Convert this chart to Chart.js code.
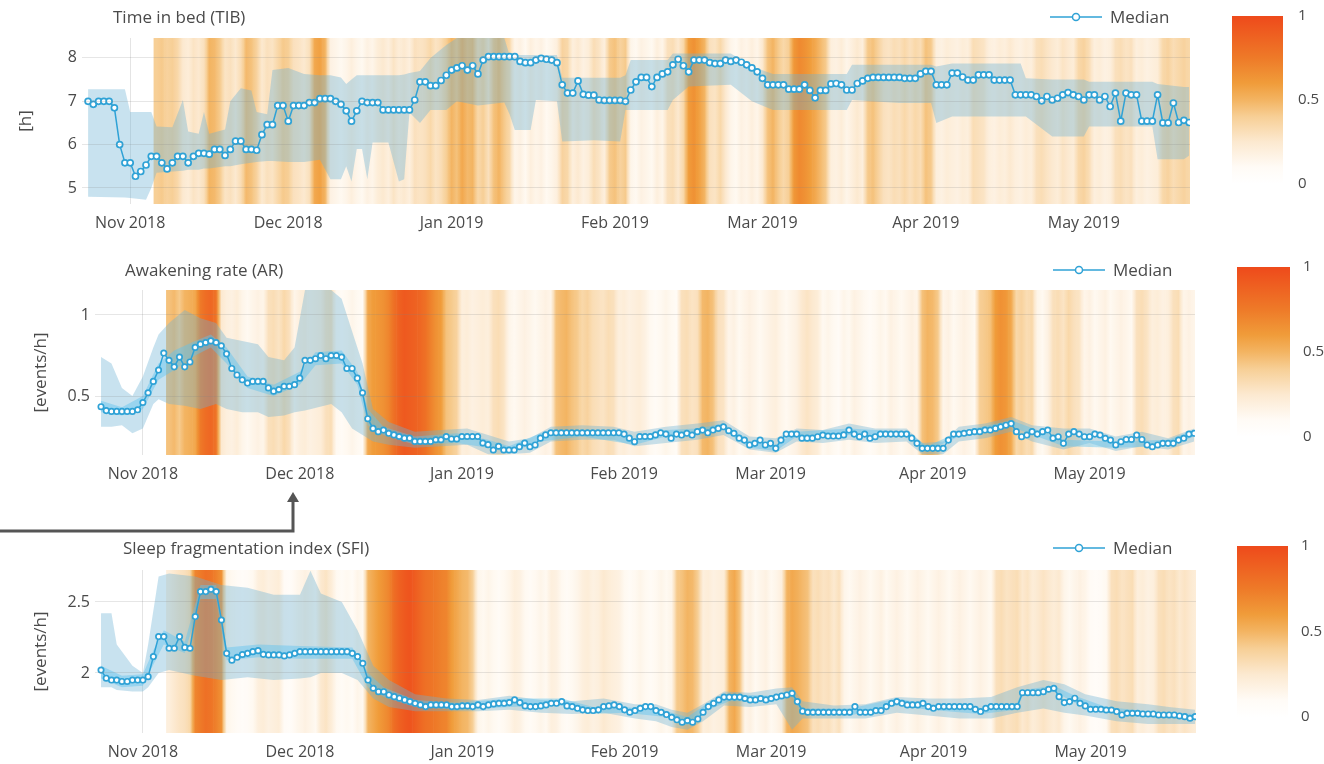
<!DOCTYPE html>
<html>
<head>
<meta charset="utf-8">
<title>Sleep metrics</title>
<script src="https://cdn.jsdelivr.net/npm/chart.js@4.4.1/dist/chart.umd.min.js"></script>
<style>
  body { margin: 0; background: #fff; font-family: "Open Sans", sans-serif; color: #4a4a4a; }
  #page { position: relative; width: 1324px; height: 764px; overflow: hidden; }
  .box { position: absolute; }
  .title, .legend { position: absolute; font-size: 17px; line-height: 20px; white-space: nowrap; }
  .legend svg { vertical-align: middle; margin-right: 8px; margin-top: -3px; }
</style>
</head>
<body>
<div id="page">
  <div class="box" style="left:0;top:0;width:1215px;height:240px"><canvas id="tib"></canvas></div>
  <div class="box" style="left:0;top:245px;width:1215px;height:245px"><canvas id="ar"></canvas></div>
  <div class="box" style="left:0;top:520px;width:1215px;height:244px"><canvas id="sfi"></canvas></div>

  <div class="box" style="left:1232px;top:0;width:92px;height:200px"><canvas id="cb1"></canvas></div>
  <div class="box" style="left:1237px;top:253px;width:87px;height:198px"><canvas id="cb2"></canvas></div>
  <div class="box" style="left:1237px;top:532px;width:87px;height:199px"><canvas id="cb3"></canvas></div>

  <div class="title" style="left:113px;top:7px">Time in bed (TIB)</div>
  <div class="title" style="left:125px;top:260px">Awakening rate (AR)</div>
  <div class="title" style="left:123px;top:538px">Sleep fragmentation index (SFI)</div>

  <div class="legend" style="left:1050px;top:7px"><svg width="52" height="12"><line x1="0" y1="6" x2="52" y2="6" stroke="#2fa2d6" stroke-width="1.5"/><circle cx="26" cy="6" r="3.5" fill="#fff" stroke="#2fa2d6" stroke-width="1.5"/></svg>Median</div>
  <div class="legend" style="left:1053px;top:260px"><svg width="52" height="12"><line x1="0" y1="6" x2="52" y2="6" stroke="#2fa2d6" stroke-width="1.5"/><circle cx="26" cy="6" r="3.5" fill="#fff" stroke="#2fa2d6" stroke-width="1.5"/></svg>Median</div>
  <div class="legend" style="left:1053px;top:538px"><svg width="52" height="12"><line x1="0" y1="6" x2="52" y2="6" stroke="#2fa2d6" stroke-width="1.5"/><circle cx="26" cy="6" r="3.5" fill="#fff" stroke="#2fa2d6" stroke-width="1.5"/></svg>Median</div>

  <svg style="position:absolute;left:0;top:488px" width="310" height="50">
    <polyline points="0,43 293,43 293,13" fill="none" stroke="#555" stroke-width="3"/>
    <polygon points="287,14 299,14 293,4" fill="#555"/>
  </svg>
</div>

<script>
// x axis: days counted from 1 Nov 2018
const monthDays = [0, 30, 61, 92, 120, 151, 181];
const monthLabels = ["Nov 2018", "Dec 2018", "Jan 2019", "Feb 2019", "Mar 2019", "Apr 2019", "May 2019"];
const medianStart = -8; // first median point (24 Oct 2018)
const heatStart = 5;    // first heat stripe (6 Nov 2018)

// colour scale of the heat stripes / colour bars
const heatStops = [
  [0, [255, 255, 255]], [0.1, [255, 251, 246]], [0.25, [252, 233, 208]], [0.4, [247, 207, 150]],
  [0.5, [243, 180, 98]], [0.6, [240, 156, 58]], [0.75, [238, 122, 40]], [1, [238, 74, 27]]
];

// ---- Time in bed ----
const tibMedian = [
  7.0, 6.93, 7.0, 7.0, 7.0, 6.85, 6.0, 5.58, 5.58, 5.27,
  5.38, 5.53, 5.73, 5.73, 5.58, 5.44, 5.58, 5.73, 5.73, 5.58,
  5.73, 5.8, 5.8, 5.78, 5.89, 5.89, 5.75, 5.89, 6.08, 6.08,
  5.89, 5.89, 5.87, 6.23, 6.46, 6.46, 6.9, 6.9, 6.54, 6.9,
  6.9, 6.9, 6.97, 6.97, 7.06, 7.06, 7.06, 7.0, 6.93, 6.78,
  6.54, 6.78, 7.0, 6.97, 6.97, 6.97, 6.8, 6.8, 6.8, 6.8,
  6.8, 6.8, 7.03, 7.45, 7.45, 7.36, 7.36, 7.48, 7.6, 7.72,
  7.77, 7.82, 7.72, 7.82, 7.63, 7.95, 8.03, 8.03, 8.03, 8.03,
  8.03, 8.03, 7.92, 7.89, 7.89, 7.95, 7.99, 7.97, 7.95, 7.89,
  7.38, 7.19, 7.19, 7.47, 7.16, 7.14, 7.14, 7.03, 7.02, 7.02,
  7.02, 7.02, 7.0, 7.26, 7.45, 7.55, 7.55, 7.34, 7.55, 7.63,
  7.68, 7.84, 7.97, 7.82, 7.68, 7.95, 7.95, 7.95, 7.89, 7.87,
  7.87, 7.95, 7.92, 7.95, 7.9, 7.84, 7.77, 7.68, 7.53, 7.38,
  7.38, 7.38, 7.38, 7.28, 7.28, 7.28, 7.38, 7.25, 7.08, 7.25,
  7.25, 7.4, 7.41, 7.38, 7.26, 7.26, 7.41, 7.47, 7.53, 7.55,
  7.55, 7.55, 7.55, 7.55, 7.55, 7.53, 7.53, 7.53, 7.63, 7.69,
  7.69, 7.38, 7.38, 7.38, 7.65, 7.65, 7.56, 7.49, 7.49, 7.61,
  7.61, 7.61, 7.49, 7.49, 7.49, 7.49, 7.15, 7.15, 7.15, 7.15,
  7.11, 7.01, 7.11, 7.03, 7.07, 7.15, 7.2, 7.15, 7.11, 7.03,
  7.15, 7.15, 7.03, 7.11, 6.88, 7.19, 6.54, 7.19, 7.15, 7.15,
  6.54, 6.54, 6.54, 7.15, 6.5, 6.5, 6.96, 6.51, 6.56, 6.51
];
const tibBandDays = [-8, -1, 0, 3, 4, 5, 8, 10, 11, 13, 14, 15, 18, 19, 21, 23, 24, 26, 27, 30,
  33, 36, 38, 40, 41, 42, 43, 44, 45, 46, 49, 51, 52, 53, 55, 57, 60, 62, 66, 71,
  72, 73, 76, 77, 81, 82, 88, 93, 94, 95, 102, 103, 106, 114, 118, 122, 130, 136, 137, 146,
  152, 153, 156, 169, 170, 175, 181, 182, 194, 195, 200, 201];
const tibBandLow = [4.8, 4.78, 4.77, 4.73, 5.0, 5.35, 5.38, 5.4, 5.42, 5.42, 5.45, 5.45, 5.5, 5.5, 5.55, 5.58, 5.6, 5.62, 5.62, 5.6,
  5.6, 5.65, 5.2, 5.2, 5.5, 5.15, 5.9, 5.9, 5.2, 6.05, 6.05, 5.15, 5.2, 6.74, 6.5, 6.8, 6.8, 7.0, 6.9, 6.97,
  6.7, 6.34, 6.34, 7.03, 7.0, 6.07, 6.1, 6.07, 6.8, 6.8, 6.8, 7.03, 7.34, 7.38, 7.0, 6.8, 6.8, 6.8, 7.03, 6.96,
  6.96, 6.5, 6.65, 6.65, 6.65, 6.19, 6.19, 6.42, 6.42, 5.66, 5.66, 5.75];
const tibBandHigh = [7.28, 7.28, 6.75, 6.75, 6.75, 6.42, 6.4, 7.03, 6.3, 6.25, 6.75, 6.25, 6.35, 7.0, 7.3, 7.25, 6.75, 6.7, 7.72, 7.77,
  7.63, 7.6, 7.6, 7.55, 7.4, 7.5, 7.6, 7.6, 7.6, 7.6, 7.6, 7.6, 7.62, 7.65, 7.7, 8.0, 8.3, 8.46, 8.46, 8.46,
  8.07, 8.07, 8.07, 8.07, 8.07, 7.54, 7.54, 7.54, 7.6, 7.95, 7.95, 8.1, 8.1, 8.1, 7.8, 7.63, 7.63, 7.63, 7.84, 7.84,
  7.84, 7.8, 7.87, 7.87, 7.53, 7.5, 7.5, 7.45, 7.45, 7.4, 7.33, 7.33];
const tibHeat = [
  0.4, 0.42, 0.38, 0.4, 0.35, 0.25, 0.22, 0.28, 0.25, 0.3,
  0.5, 0.48, 0.42, 0.28, 0.3, 0.25, 0.32, 0.48, 0.45, 0.38,
  0.25, 0.3, 0.28, 0.35, 0.42, 0.4, 0.3, 0.28, 0.25, 0.3,
  0.55, 0.58, 0.5, 0.18, 0.15, 0.12, 0.15, 0.2, 0.15, 0.12,
  0.18, 0.15, 0.22, 0.25, 0.2, 0.28, 0.22, 0.25, 0.2, 0.3,
  0.28, 0.3, 0.35, 0.28, 0.32, 0.4, 0.5, 0.45, 0.55, 0.48,
  0.5, 0.35, 0.4, 0.3, 0.45, 0.5, 0.42, 0.35, 0.15, 0.18,
  0.12, 0.2, 0.15, 0.18, 0.12, 0.15, 0.2, 0.38, 0.35, 0.2,
  0.25, 0.18, 0.22, 0.32, 0.28, 0.2, 0.42, 0.45, 0.38, 0.42,
  0.15, 0.12, 0.18, 0.15, 0.12, 0.2, 0.15, 0.3, 0.32, 0.25,
  0.35, 0.6, 0.65, 0.58, 0.5, 0.3, 0.28, 0.35, 0.25, 0.15,
  0.12, 0.18, 0.15, 0.2, 0.15, 0.25, 0.45, 0.5, 0.42, 0.35,
  0.4, 0.62, 0.68, 0.65, 0.6, 0.55, 0.48, 0.42, 0.2, 0.18,
  0.22, 0.15, 0.2, 0.25, 0.2, 0.42, 0.45, 0.38, 0.3, 0.28,
  0.32, 0.3, 0.35, 0.3, 0.35, 0.32, 0.45, 0.42, 0.2, 0.18,
  0.22, 0.2, 0.18, 0.22, 0.2, 0.32, 0.3, 0.28, 0.2, 0.18,
  0.22, 0.2, 0.25, 0.2, 0.18, 0.22, 0.2, 0.3, 0.32, 0.28,
  0.25, 0.22, 0.28, 0.25, 0.22, 0.35, 0.38, 0.32, 0.2, 0.22,
  0.18, 0.2, 0.3, 0.32, 0.28, 0.3, 0.2, 0.22, 0.18, 0.2,
  0.22, 0.35, 0.38, 0.32, 0.35, 0.38, 0.35
];

// ---- Awakening rate ----
const arMedian = [
  0.434, 0.41, 0.405, 0.405, 0.405, 0.405, 0.405, 0.415, 0.46, 0.52,
  0.59, 0.66, 0.765, 0.72, 0.68, 0.74, 0.68, 0.71, 0.8, 0.82,
  0.83, 0.84, 0.83, 0.81, 0.76, 0.67, 0.63, 0.6, 0.58, 0.59,
  0.59, 0.59, 0.55, 0.53, 0.54, 0.56, 0.56, 0.57, 0.61, 0.72,
  0.72, 0.73, 0.75, 0.73, 0.75, 0.75, 0.74, 0.67, 0.67, 0.61,
  0.52, 0.36, 0.3, 0.28, 0.29, 0.27, 0.26, 0.25, 0.24, 0.24,
  0.22, 0.22, 0.22, 0.22, 0.23, 0.23, 0.25, 0.235, 0.235, 0.25,
  0.25, 0.25, 0.25, 0.21, 0.2, 0.167, 0.19, 0.167, 0.167, 0.167,
  0.187, 0.21, 0.187, 0.198, 0.24, 0.26, 0.273, 0.273, 0.273, 0.273,
  0.273, 0.273, 0.273, 0.273, 0.273, 0.273, 0.273, 0.273, 0.273, 0.273,
  0.265, 0.24, 0.218, 0.25, 0.25, 0.25, 0.26, 0.273, 0.265, 0.24,
  0.265, 0.259, 0.27, 0.259, 0.28, 0.29, 0.273, 0.29, 0.3, 0.31,
  0.286, 0.27, 0.24, 0.228, 0.198, 0.208, 0.228, 0.198, 0.208, 0.177,
  0.228, 0.265, 0.265, 0.265, 0.24, 0.24, 0.24, 0.249, 0.259, 0.253,
  0.253, 0.253, 0.26, 0.29, 0.265, 0.249, 0.265, 0.239, 0.249, 0.265,
  0.265, 0.265, 0.265, 0.265, 0.265, 0.24, 0.208, 0.177, 0.177, 0.177,
  0.177, 0.177, 0.228, 0.265, 0.265, 0.27, 0.275, 0.28, 0.28, 0.29,
  0.29, 0.3, 0.31, 0.32, 0.33, 0.28, 0.249, 0.259, 0.28, 0.265,
  0.28, 0.29, 0.24, 0.249, 0.208, 0.265, 0.28, 0.265, 0.249, 0.249,
  0.265, 0.259, 0.239, 0.228, 0.198, 0.218, 0.232, 0.232, 0.259, 0.232,
  0.198, 0.187, 0.198, 0.208, 0.208, 0.208, 0.228, 0.239, 0.265, 0.27
];
const arBandDays = [-8, -6, -4, -2, 0, 2, 3, 5, 8, 11, 14, 16, 19, 22, 24, 27, 29, 31, 36, 38,
  40, 42, 44, 47, 52, 57, 62, 66, 70, 74, 78, 84, 90, 94, 100, 106, 111, 116, 121, 125,
  130, 135, 140, 146, 149, 153, 156, 161, 166, 170, 176, 181, 186, 191, 196, 201];
const arBandLow = [0.31, 0.31, 0.32, 0.27, 0.3, 0.45, 0.48, 0.45, 0.44, 0.42, 0.45, 0.42, 0.4, 0.4, 0.37, 0.38, 0.4, 0.41, 0.45, 0.4,
  0.3, 0.26, 0.22, 0.2, 0.18, 0.19, 0.2, 0.14, 0.14, 0.15, 0.22, 0.23, 0.23, 0.19, 0.21, 0.23, 0.26, 0.17, 0.15, 0.22,
  0.21, 0.23, 0.21, 0.22, 0.14, 0.14, 0.22, 0.24, 0.28, 0.22, 0.17, 0.21, 0.16, 0.19, 0.17, 0.22];
const arBandHigh = [0.74, 0.7, 0.55, 0.5, 0.62, 0.8, 0.88, 0.95, 1.03, 0.98, 0.95, 0.86, 0.84, 0.82, 0.74, 0.72, 0.8, 1.154, 1.154, 1.1,
  0.9, 0.7, 0.42, 0.34, 0.28, 0.29, 0.3, 0.26, 0.22, 0.24, 0.31, 0.32, 0.31, 0.28, 0.31, 0.33, 0.35, 0.25, 0.24, 0.3,
  0.29, 0.33, 0.3, 0.3, 0.21, 0.22, 0.31, 0.33, 0.37, 0.32, 0.3, 0.3, 0.25, 0.28, 0.24, 0.3];
const arInnerDays = [-8, -4, 0, 3, 6, 10, 13, 16, 20, 25, 30, 33, 38, 41, 43, 46, 52, 60, 66, 70,
  76, 84, 94, 100, 106, 111, 116, 121, 125, 135, 146, 150, 156, 166, 176, 186, 196, 201];
const arInnerLow = [0.4, 0.38, 0.42, 0.6, 0.66, 0.75, 0.8, 0.7, 0.55, 0.5, 0.57, 0.69, 0.7, 0.57, 0.32, 0.26, 0.2, 0.21, 0.18, 0.15,
  0.22, 0.25, 0.2, 0.25, 0.26, 0.29, 0.18, 0.16, 0.25, 0.26, 0.25, 0.16, 0.25, 0.31, 0.19, 0.18, 0.19, 0.25];
const arInnerHigh = [0.47, 0.43, 0.5, 0.7, 0.78, 0.84, 0.88, 0.8, 0.62, 0.57, 0.65, 0.77, 0.78, 0.65, 0.42, 0.31, 0.25, 0.27, 0.23, 0.19,
  0.27, 0.29, 0.24, 0.29, 0.3, 0.33, 0.22, 0.2, 0.28, 0.3, 0.28, 0.19, 0.28, 0.35, 0.23, 0.22, 0.23, 0.29];
const arHeat = [
  0.45, 0.48, 0.42, 0.5, 0.52, 0.55, 0.75, 0.82, 0.85, 0.78,
  0.25, 0.2, 0.18, 0.22, 0.15, 0.12, 0.15, 0.18, 0.15, 0.3,
  0.32, 0.28, 0.35, 0.3, 0.15, 0.2, 0.22, 0.18, 0.2, 0.22,
  0.3, 0.32, 0.12, 0.1, 0.12, 0.15, 0.12, 0.1, 0.55, 0.6,
  0.62, 0.65, 0.7, 0.8, 0.88, 0.92, 0.9, 0.88, 0.85, 0.8,
  0.72, 0.65, 0.6, 0.45, 0.42, 0.38, 0.2, 0.22, 0.18, 0.2,
  0.22, 0.2, 0.3, 0.32, 0.28, 0.15, 0.12, 0.15, 0.18, 0.15,
  0.12, 0.15, 0.18, 0.15, 0.45, 0.48, 0.5, 0.45, 0.42, 0.35,
  0.38, 0.32, 0.3, 0.28, 0.32, 0.3, 0.2, 0.22, 0.18, 0.2,
  0.22, 0.18, 0.12, 0.1, 0.12, 0.15, 0.12, 0.1, 0.3, 0.32,
  0.28, 0.3, 0.48, 0.5, 0.45, 0.3, 0.28, 0.15, 0.18, 0.12,
  0.15, 0.18, 0.15, 0.12, 0.15, 0.18, 0.2, 0.15, 0.12, 0.15,
  0.18, 0.25, 0.28, 0.25, 0.22, 0.12, 0.15, 0.12, 0.1, 0.15,
  0.12, 0.18, 0.15, 0.12, 0.1, 0.12, 0.15, 0.12, 0.18, 0.15,
  0.12, 0.15, 0.18, 0.15, 0.45, 0.5, 0.48, 0.42, 0.15, 0.18,
  0.12, 0.15, 0.18, 0.15, 0.12, 0.4, 0.42, 0.45, 0.6, 0.65,
  0.62, 0.55, 0.35, 0.38, 0.32, 0.35, 0.15, 0.12, 0.18, 0.3,
  0.32, 0.28, 0.35, 0.3, 0.28, 0.15, 0.18, 0.12, 0.15, 0.18,
  0.12, 0.15, 0.18, 0.15, 0.12, 0.3, 0.32, 0.28, 0.2, 0.22,
  0.18, 0.2, 0.3, 0.32, 0.15, 0.18, 0.15
];

// ---- Sleep fragmentation index ----
const sfiMedian = [
  2.02, 1.963, 1.95, 1.95, 1.94, 1.94, 1.95, 1.95, 1.95, 1.974,
  2.115, 2.256, 2.256, 2.174, 2.174, 2.256, 2.18, 2.174, 2.397, 2.573,
  2.573, 2.589, 2.573, 2.373, 2.138, 2.09, 2.11, 2.13, 2.138, 2.15,
  2.157, 2.131, 2.127, 2.127, 2.127, 2.12, 2.127, 2.138, 2.15, 2.15,
  2.15, 2.15, 2.15, 2.15, 2.15, 2.15, 2.15, 2.15, 2.138, 2.115,
  2.068, 1.95, 1.892, 1.868, 1.868, 1.845, 1.833, 1.822, 1.81, 1.798,
  1.786, 1.775, 1.763, 1.775, 1.775, 1.775, 1.775, 1.763, 1.763, 1.768,
  1.768, 1.763, 1.775, 1.763, 1.775, 1.782, 1.786, 1.786, 1.791, 1.81,
  1.791, 1.768, 1.763, 1.763, 1.768, 1.775, 1.786, 1.786, 1.798, 1.768,
  1.763, 1.751, 1.74, 1.735, 1.735, 1.74, 1.763, 1.768, 1.775, 1.763,
  1.74, 1.723, 1.735, 1.751, 1.763, 1.763, 1.735, 1.723, 1.707, 1.688,
  1.67, 1.653, 1.665, 1.653, 1.676, 1.723, 1.763, 1.786, 1.81, 1.83,
  1.83, 1.83, 1.83, 1.82, 1.81, 1.81, 1.82, 1.81, 1.82, 1.83,
  1.838, 1.845, 1.857, 1.798, 1.731, 1.723, 1.723, 1.723, 1.723, 1.723,
  1.723, 1.723, 1.723, 1.723, 1.763, 1.723, 1.723, 1.723, 1.735, 1.735,
  1.763, 1.786, 1.798, 1.786, 1.775, 1.775, 1.775, 1.786, 1.763, 1.751,
  1.763, 1.763, 1.763, 1.763, 1.763, 1.763, 1.763, 1.744, 1.728, 1.751,
  1.763, 1.763, 1.763, 1.763, 1.763, 1.763, 1.861, 1.861, 1.861, 1.861,
  1.868, 1.885, 1.892, 1.833, 1.791, 1.798, 1.822, 1.786, 1.768, 1.744,
  1.744, 1.744, 1.739, 1.739, 1.728, 1.704, 1.716, 1.716, 1.716, 1.711,
  1.711, 1.711, 1.704, 1.704, 1.704, 1.704, 1.697, 1.692, 1.681, 1.692
];
const sfiBandDays = [-8, -6, -5, -2, 0, 1, 3, 5, 10, 15, 20, 25, 30, 32, 34, 38, 41, 44, 47, 52,
  58, 64, 70, 76, 82, 88, 94, 98, 101, 104, 107, 111, 116, 121, 124, 126, 132, 138, 144, 150,
  156, 162, 167, 172, 176, 180, 186, 192, 196, 201];
const sfiBandLow = [1.9, 1.9, 1.88, 1.87, 1.87, 1.9, 2.0, 2.02, 1.98, 1.95, 1.97, 1.95, 1.96, 1.97, 2.0, 2.0, 1.95, 1.82, 1.76, 1.73,
  1.73, 1.73, 1.74, 1.72, 1.71, 1.72, 1.68, 1.66, 1.62, 1.6, 1.66, 1.77, 1.76, 1.78, 1.6, 1.68, 1.68, 1.68, 1.72, 1.7,
  1.68, 1.68, 1.72, 1.75, 1.72, 1.7, 1.66, 1.64, 1.64, 1.64];
const sfiBandHigh = [2.42, 2.42, 2.2, 2.05, 2.0, 2.2, 2.68, 2.7, 2.68, 2.62, 2.6, 2.55, 2.55, 2.72, 2.56, 2.5, 2.3, 2.05, 1.95, 1.85,
  1.82, 1.81, 1.84, 1.81, 1.8, 1.82, 1.78, 1.78, 1.74, 1.72, 1.78, 1.87, 1.86, 1.89, 1.9, 1.8, 1.77, 1.78, 1.83, 1.82,
  1.82, 1.83, 1.9, 1.95, 1.92, 1.85, 1.8, 1.78, 1.76, 1.74];
const sfiInnerDays = [-8, -4, 0, 2, 4, 8, 11, 14, 16, 22, 30, 40, 43, 46, 52, 60, 70, 80, 86, 92,
  100, 104, 108, 112, 120, 124, 126, 135, 144, 150, 160, 167, 168, 174, 178, 184, 192, 201];
const sfiInnerLow = [1.96, 1.9, 1.91, 2.06, 2.2, 2.14, 2.52, 2.52, 2.09, 2.11, 2.1, 2.1, 1.9, 1.83, 1.76, 1.74, 1.76, 1.77, 1.71, 1.72,
  1.69, 1.63, 1.74, 1.8, 1.8, 1.83, 1.71, 1.7, 1.77, 1.74, 1.71, 1.74, 1.84, 1.87, 1.79, 1.72, 1.69, 1.67];
const sfiInnerHigh = [2.05, 1.98, 1.99, 2.16, 2.3, 2.22, 2.62, 2.62, 2.18, 2.2, 2.19, 2.18, 2.0, 1.9, 1.81, 1.79, 1.82, 1.82, 1.76, 1.76,
  1.73, 1.69, 1.79, 1.85, 1.84, 1.88, 1.75, 1.75, 1.82, 1.78, 1.75, 1.79, 1.88, 1.91, 1.84, 1.76, 1.73, 1.71];
const sfiHeat = [
  0.2, 0.25, 0.28, 0.3, 0.35, 0.7, 0.75, 0.8, 0.78, 0.72,
  0.65, 0.15, 0.12, 0.1, 0.08, 0.1, 0.12, 0.2, 0.22, 0.18,
  0.2, 0.22, 0.1, 0.08, 0.12, 0.15, 0.18, 0.15, 0.12, 0.25,
  0.28, 0.22, 0.12, 0.1, 0.12, 0.1, 0.15, 0.12, 0.5, 0.55,
  0.6, 0.65, 0.7, 0.82, 0.88, 0.92, 0.95, 0.9, 0.85, 0.8,
  0.78, 0.75, 0.72, 0.7, 0.6, 0.55, 0.5, 0.48, 0.4, 0.15,
  0.12, 0.15, 0.12, 0.1, 0.12, 0.15, 0.2, 0.18, 0.12, 0.1,
  0.12, 0.15, 0.12, 0.2, 0.18, 0.12, 0.1, 0.12, 0.15, 0.2,
  0.22, 0.18, 0.2, 0.25, 0.22, 0.2, 0.18, 0.12, 0.1, 0.12,
  0.15, 0.12, 0.1, 0.12, 0.15, 0.12, 0.15, 0.42, 0.45, 0.5,
  0.48, 0.4, 0.2, 0.22, 0.18, 0.2, 0.22, 0.5, 0.55, 0.45,
  0.15, 0.18, 0.12, 0.15, 0.18, 0.12, 0.15, 0.2, 0.5, 0.55,
  0.52, 0.48, 0.45, 0.3, 0.32, 0.28, 0.3, 0.25, 0.3, 0.15,
  0.12, 0.15, 0.18, 0.15, 0.12, 0.15, 0.18, 0.12, 0.15, 0.18,
  0.15, 0.12, 0.15, 0.18, 0.15, 0.12, 0.15, 0.18, 0.15, 0.12,
  0.15, 0.18, 0.15, 0.12, 0.15, 0.18, 0.15, 0.12, 0.3, 0.32,
  0.28, 0.3, 0.32, 0.25, 0.28, 0.22, 0.25, 0.28, 0.25, 0.22,
  0.25, 0.15, 0.12, 0.15, 0.18, 0.15, 0.1, 0.08, 0.1, 0.12,
  0.3, 0.32, 0.28, 0.3, 0.32, 0.2, 0.22, 0.18, 0.2, 0.3,
  0.32, 0.28, 0.3, 0.25, 0.28, 0.25, 0.22
];

const lineColor = "#2fa2d6";
const bandColor = "rgba(110, 180, 212, 0.38)";
const innerColor = "rgba(95, 195, 240, 0.45)";
const textColor = "#4a4a4a";
Chart.defaults.font.family = '"Open Sans", sans-serif';
Chart.defaults.color = textColor;

function rgb(c) {
  return `rgb(${c[0]}, ${c[1]}, ${c[2]})`;
}

// map a 0..1 value onto the heat colour scale
function heatColor(v) {
  for (let i = 1; i < heatStops.length; i++) {
    const [p1, c1] = heatStops[i];
    const [p0, c0] = heatStops[i - 1];
    if (v <= p1) {
      const t = (v - p0) / (p1 - p0);
      return rgb(c0.map((c, k) => Math.round(c + (c1[k] - c) * t)));
    }
  }
  return rgb(heatStops[heatStops.length - 1][1]);
}

// each stripe blends softly into its neighbours
function stripeFill(heat) {
  return ctx => {
    const i = ctx.dataIndex;
    if (i === undefined) return heatColor(0.3);
    const xs = ctx.chart.scales.x;
    if (!xs || !ctx.chart.chartArea) return heatColor(heat[i]);
    const d = heatStart + i;
    const prev = i > 0 ? heat[i - 1] : heat[i];
    const next = i < heat.length - 1 ? heat[i + 1] : heat[i];
    const g = ctx.chart.ctx.createLinearGradient(xs.getPixelForValue(d - 0.5), 0, xs.getPixelForValue(d + 0.5), 0);
    g.addColorStop(0, heatColor((prev + heat[i]) / 2));
    g.addColorStop(0.5, heatColor(heat[i]));
    g.addColorStop(1, heatColor((next + heat[i]) / 2));
    return g;
  };
}

function bandPair(days, low, high, color, order) {
  return [
    { data: days.map((d, i) => ({ x: d, y: low[i] })), borderColor: "rgba(0,0,0,0)", borderWidth: 0,
      pointRadius: 0, fill: false, order: order },
    { data: days.map((d, i) => ({ x: d, y: high[i] })), borderColor: "rgba(0,0,0,0)", borderWidth: 0,
      pointRadius: 0, fill: "-1", backgroundColor: color, order: order }
  ];
}

function buildPanel(id, p) {
  const medianPts = p.median.map((v, i) => ({ x: medianStart + i, y: v }));
  const heatPts = p.heat.map((v, i) => ({ x: heatStart + i, y: 1 }));

  const datasets = [
    { type: "bar", data: heatPts, yAxisID: "yh", backgroundColor: stripeFill(p.heat),
      barPercentage: 1, categoryPercentage: 1, borderWidth: 0, order: 5 },
    ...bandPair(p.bandDays, p.bandLow, p.bandHigh, bandColor, 4)
  ];
  if (p.innerDays) datasets.push(...bandPair(p.innerDays, p.innerLow, p.innerHigh, innerColor, 3));
  datasets.push({ data: medianPts, borderColor: lineColor, borderWidth: 1.5, pointRadius: p.r,
    pointBackgroundColor: "#fff", pointBorderColor: lineColor, pointBorderWidth: 1.7, order: 1 });

  new Chart(document.getElementById(id), {
    type: "line",
    data: { datasets: datasets },
    options: {
      responsive: true,
      maintainAspectRatio: false,
      animation: false,
      layout: { padding: { left: 0, top: p.padTop, right: p.padRight, bottom: 0 } },
      plugins: { legend: { display: false }, tooltip: { enabled: false } },
      scales: {
        x: {
          type: "linear", min: -9.15, max: 201.15, offset: false,
          afterBuildTicks: s => { s.ticks = monthDays.map(v => ({ value: v })); },
          afterFit: s => { s.height = p.xHeight; },
          ticks: { callback: v => monthLabels[monthDays.indexOf(v)], font: { size: 16 }, padding: 10,
            maxRotation: 0, autoSkip: false },
          grid: { color: "#e4e4e4", drawTicks: false, offset: false },
          border: { display: false }
        },
        y: {
          min: p.yMin, max: p.yMax,
          afterBuildTicks: s => { s.ticks = p.yTicks.map(v => ({ value: v })); },
          afterFit: s => { s.width = p.yWidth; },
          ticks: { callback: v => String(v), font: { size: 16 }, padding: 5 },
          grid: { color: "rgba(130,130,130,0.2)", drawTicks: false, z: 1 },
          border: { display: false },
          title: { display: true, text: p.yTitle, font: { size: 17 }, padding: { top: p.titlePad, bottom: 0 } }
        },
        yh: { display: false, min: 0, max: 1 }
      }
    }
  });
}

function buildColorbar(id, axisWidth, pad) {
  new Chart(document.getElementById(id), {
    type: "bar",
    data: {
      labels: [""],
      datasets: [{
        data: [1], barPercentage: 1, categoryPercentage: 1, borderWidth: 0,
        backgroundColor: ctx => {
          const area = ctx.chart.chartArea;
          if (!area) return heatColor(0.5);
          const g = ctx.chart.ctx.createLinearGradient(0, area.bottom, 0, area.top);
          heatStops.forEach(s => g.addColorStop(s[0], rgb(s[1])));
          return g;
        }
      }]
    },
    options: {
      responsive: true,
      maintainAspectRatio: false,
      animation: false,
      layout: { padding: { top: 13, bottom: 13, left: 0, right: 0 } },
      plugins: { legend: { display: false }, tooltip: { enabled: false } },
      scales: {
        x: { display: false },
        y: {
          position: "right", min: 0, max: 1,
          afterBuildTicks: s => { s.ticks = [0, 0.5, 1].map(v => ({ value: v })); },
          afterFit: s => { s.width = axisWidth; },
          ticks: { callback: v => String(v), font: { size: 15 }, padding: pad },
          grid: { display: false },
          border: { display: false }
        }
      }
    }
  });
}

buildPanel("tib", {
  median: tibMedian, bandDays: tibBandDays, bandLow: tibBandLow, bandHigh: tibBandHigh, heat: tibHeat,
  yMin: 4.63, yMax: 8.46, yTicks: [5, 6, 7, 8], yTitle: "[h]", r: 3,
  padTop: 38, padRight: 25, xHeight: 36, yWidth: 82, titlePad: 16
});
buildPanel("ar", {
  median: arMedian, bandDays: arBandDays, bandLow: arBandLow, bandHigh: arBandHigh, heat: arHeat,
  innerDays: arInnerDays, innerLow: arInnerLow, innerHigh: arInnerHigh,
  yMin: 0.136, yMax: 1.154, yTicks: [0.5, 1], yTitle: "[events/h]", r: 2.7,
  padTop: 45, padRight: 20, xHeight: 35, yWidth: 95, titlePad: 31
});
buildPanel("sfi", {
  median: sfiMedian, bandDays: sfiBandDays, bandLow: sfiBandLow, bandHigh: sfiBandHigh, heat: sfiHeat,
  innerDays: sfiInnerDays, innerLow: sfiInnerLow, innerHigh: sfiInnerHigh,
  yMin: 1.577, yMax: 2.725, yTicks: [2, 2.5], yTitle: "[events/h]", r: 2.7,
  padTop: 50, padRight: 19, xHeight: 31, yWidth: 95, titlePad: 31
});

buildColorbar("cb1", 41, 7);
buildColorbar("cb2", 34, 5);
buildColorbar("cb3", 36, 5);
</script>
</body>
</html>
